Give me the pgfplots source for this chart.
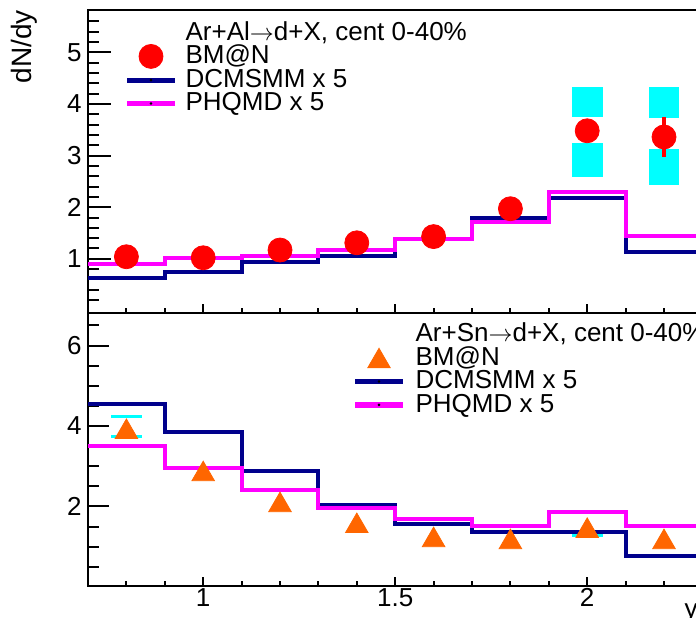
\documentclass[border=0pt]{standalone}
\usepackage{pgfplots}
\pgfplotsset{compat=1.18}
\usepackage{fontspec}
\setmainfont{Liberation Sans}
\definecolor{rootnavy}{RGB}{0,0,140}
\definecolor{rootorange}{RGB}{255,102,0}
\definecolor{rootcyan}{RGB}{0,255,255}
\definecolor{rootmag}{RGB}{255,0,255}

\pgfplotsset{
  rootaxis/.style={
    scale only axis, width=307.2pt,
    xmin=0.7, xmax=2.3,
    xtick={1,1.5,2},
    minor xtick={0.8,0.9,1.1,1.2,1.3,1.4,1.6,1.7,1.8,1.9,2.1,2.2},
    xtick pos=bottom, ytick pos=left,
    tick align=inside,
    axis line style={line width=1pt},
    every tick/.style={line width=1pt, black},
    major x tick style={/pgfplots/major tick length=4.5pt},
    minor x tick style={/pgfplots/minor tick length=2.3pt},
    minor y tick style={/pgfplots/minor tick length=5.5pt},
    /pgf/number format/assume math mode=true,
    ticklabel style={font=\fontsize{13}{13}\selectfont},
    yticklabel style={inner sep=0pt, xshift=-3pt},
    xticklabel style={inner sep=0pt, yshift=-1pt},
    legend cell align=left,
    legend style={draw=none, fill=none, inner sep=0pt, row sep=0pt,
      font=\fontsize{13}{13}\selectfont,
      nodes={inner sep=0pt, text height=9.5pt, text depth=2.2pt}},
  },
  histline/.style={line width=2pt, const plot, forget plot},
  linelegend/.style={legend image code/.code={
      \draw[##1, line width=2.6pt] (0pt,0pt) -- (24pt,0pt);
      \fill[black] (12pt,0pt) circle (0.45pt);}},
  marklegend/.style={legend image code/.code={
      \draw[##1] plot coordinates {(12pt,0pt)};}},
}

\begin{document}
\begin{tikzpicture}
\useasboundingbox (0,0) rectangle (348pt,308.5pt);

% ---------------- top panel: Ar+Al ----------------
\begin{axis}[rootaxis,
  at={(44pt,152pt)}, anchor=south west,
  height=151.5pt,
  ymin=-0.05, ymax=5.82,
  ytick={1,2,3,4,5},
  minor ytick={0.2,0.4,0.6,0.8,1.2,1.4,1.6,1.8,2.2,2.4,2.6,2.8,3.2,3.4,3.6,3.8,4.2,4.4,4.6,4.8,5.2,5.4,5.6},
  major y tick style={/pgfplots/major tick length=11.5pt},
  xticklabels={},
  ylabel={dN/dy},
  ylabel style={at={(rel axis cs:-0.1042,1)}, anchor=east, inner sep=0pt,
    font=\fontsize{14}{14}\selectfont},
  legend style={at={(rel axis cs:0.0586,1)}, anchor=north west, yshift=-5.3pt,
    column sep=4pt},
]
\addlegendimage{empty legend}
\addlegendentry{Ar+Al$\rightarrow$d+X, cent 0-40\%}

% systematic boxes
\addplot[fill=rootcyan, draw=none, forget plot] coordinates {(1.96,3.74) (2.04,3.74) (2.04,4.33) (1.96,4.33)};
\addplot[fill=rootcyan, draw=none, forget plot] coordinates {(1.96,2.59) (2.04,2.59) (2.04,3.24) (1.96,3.24)};
\addplot[fill=rootcyan, draw=none, forget plot] coordinates {(2.16,3.73) (2.24,3.73) (2.24,4.33) (2.16,4.33)};
\addplot[fill=rootcyan, draw=none, forget plot] coordinates {(2.16,2.43) (2.24,2.43) (2.24,3.13) (2.16,3.13)};
% stat error
\addplot[red, line width=2pt, forget plot] coordinates {(2.2,2.97) (2.2,3.75)};

\addplot[only marks, mark=*, mark size=6pt, color=red, marklegend] coordinates {
 (0.8,1.04) (1.0,1.02) (1.2,1.17) (1.4,1.31) (1.6,1.43) (1.8,1.97) (2.0,3.48) (2.2,3.36)};
\addlegendentry{BM@N}

\addplot[rootnavy, histline] coordinates {
 (0.7,0.63) (0.9,0.75) (1.1,0.94) (1.3,1.06) (1.5,1.39) (1.7,1.79) (1.9,2.18) (2.1,1.14) (2.3,1.14)};
\addlegendimage{rootnavy, linelegend}
\addlegendentry{DCMSMM x 5}

\addplot[rootmag, histline] coordinates {
 (0.7,0.90) (0.9,1.02) (1.1,1.06) (1.3,1.17) (1.5,1.39) (1.7,1.72) (1.9,2.29) (2.1,1.44) (2.3,1.44)};
\addlegendimage{rootmag, linelegend}
\addlegendentry{PHQMD x 5}
\end{axis}

% ---------------- bottom panel: Ar+Sn ----------------
\begin{axis}[rootaxis,
  at={(44pt,15.5pt)}, anchor=south west,
  height=136.5pt,
  ymin=0.02, ymax=6.81,
  ytick={2,4,6},
  minor ytick={0.5,1,1.5,2.5,3,3.5,4.5,5,5.5,6.5},
  major y tick style={/pgfplots/major tick length=10.5pt},
  xlabel={y},
  xlabel style={at={(rel axis cs:0.993,0)}, anchor=north east, inner sep=0pt,
    yshift=-8.5pt, font=\fontsize{13}{13}\selectfont},
  legend style={at={(rel axis cs:0.4297,1)}, anchor=north west, yshift=-4.8pt,
    column sep=5pt},
]
\addlegendimage{empty legend}
\addlegendentry{Ar+Sn$\rightarrow$d+X, cent 0-40\%}

\addplot[rootcyan, line width=1.6pt, forget plot] coordinates {(0.76,4.23) (0.84,4.23)};
\addplot[rootcyan, line width=1.6pt, forget plot] coordinates {(0.76,3.73) (0.84,3.73)};
\addplot[rootcyan, line width=1.6pt, forget plot] coordinates {(1.96,1.27) (2.04,1.27)};

\addplot[only marks, mark=triangle*, mark size=6.5pt, color=rootorange,
  mark options={yshift=-1.6pt}, marklegend] coordinates {
 (0.8,3.93) (1.0,2.88) (1.2,2.11) (1.4,1.59) (1.6,1.24) (1.8,1.19) (2.0,1.47) (2.2,1.19)};
\addlegendentry{BM@N}

\addplot[rootnavy, histline] coordinates {
 (0.7,4.55) (0.9,3.85) (1.1,2.88) (1.3,2.04) (1.5,1.56) (1.7,1.37) (1.9,1.37) (2.1,0.77) (2.3,0.77)};
\addlegendimage{rootnavy, linelegend}
\addlegendentry{DCMSMM x 5}

\addplot[rootmag, histline] coordinates {
 (0.7,3.50) (0.9,2.96) (1.1,2.41) (1.3,1.96) (1.5,1.69) (1.7,1.51) (1.9,1.86) (2.1,1.51) (2.3,1.51)};
\addlegendimage{rootmag, linelegend}
\addlegendentry{PHQMD x 5}
\end{axis}
\end{tikzpicture}
\end{document}
